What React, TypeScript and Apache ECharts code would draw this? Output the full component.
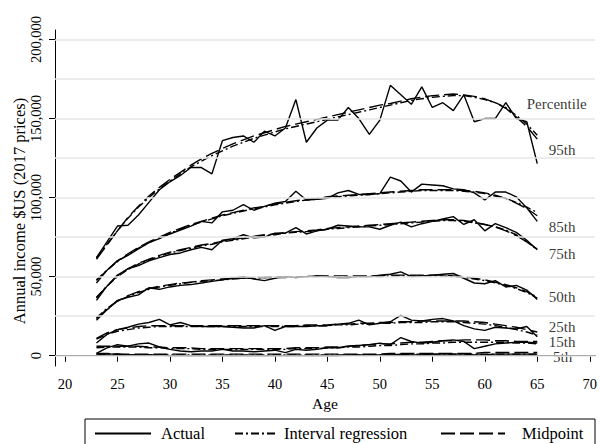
import React, { useEffect, useRef } from "react";
import * as echarts from "echarts";

// Ages observed
const ages = [
  23, 24, 25, 26, 27, 28, 29, 30, 31, 32, 33, 34, 35, 36, 37, 38, 39, 40, 41, 42, 43, 44,
  45, 46, 47, 48, 49, 50, 51, 52, 53, 54, 55, 56, 57, 58, 59, 60, 61, 62, 63, 64, 65,
];

// Annual income by age, in thousands of 2017 $US
const p95Actual = [62, 72, 82, 82.5, 89, 97, 105, 110, 114, 119, 119, 115, 136, 138, 139, 135, 142, 139, 144, 162, 135, 144, 149, 149, 157, 150, 140, 149, 171, 165, 159, 170, 157, 160, 155, 165, 148, 150, 150, 160, 150, 148, 121.5];
const p95Interval = [62, 70.5, 79, 87, 94, 100, 105.5, 110.5, 115, 119.5, 123, 126.5, 129.5, 132.5, 135, 137.5, 139.5, 141.5, 143.5, 145, 146.5, 148, 149.5, 151, 152.5, 154, 155.5, 157, 158.5, 160, 161.5, 162.5, 163.5, 164, 164.5, 164.5, 163.5, 162, 160, 157, 152, 146.5, 139.5];
const p95Midpoint = [61, 70, 79, 87.5, 94.5, 101, 106.5, 111.5, 116, 120.5, 124.5, 128, 131, 134, 136.5, 139, 141, 143, 145, 146.5, 148, 149.5, 151, 152.5, 154, 155.5, 157, 158.5, 159.5, 161, 162.5, 163.5, 164.5, 165, 165.5, 165, 164, 162.5, 160, 156.5, 151, 145, 137];

const p85Actual = [46, 54, 60, 63.5, 67.5, 71.5, 74, 77, 79.5, 82, 85, 84, 91, 92, 95.5, 92, 94.5, 96.5, 97.5, 104, 98.5, 99, 99.5, 103, 104.5, 102, 102, 102.5, 113, 110.5, 103.5, 108.5, 108, 107.5, 105.5, 105, 103, 98.5, 103.5, 103.5, 100.5, 93.5, 85];
const p85Interval = [48, 54, 59.5, 64, 68, 71.5, 74.5, 77.5, 80, 82.5, 84.5, 86.5, 88.5, 90, 91.5, 93, 94, 95.5, 96.5, 97.5, 98.5, 99, 100, 100.5, 101, 101.5, 102, 102.5, 103, 103.5, 104, 104.5, 104.5, 104.5, 104.5, 104, 103.5, 102.5, 101, 99.5, 97, 94, 90.5];
const p85Midpoint = [47.5, 54, 60, 64.5, 68.5, 72, 75, 78, 80.5, 83, 85, 87, 89, 90.5, 92, 93.5, 94.5, 96, 97, 98, 99, 99.5, 100.5, 101, 101.5, 102, 102.5, 103, 103.5, 104, 104.5, 105, 105, 105, 105, 104.5, 104, 103, 101.5, 99.5, 96.5, 93, 88.5];

const p75Actual = [35, 44, 51, 55, 57, 60, 62, 64, 65, 67, 68.5, 67, 73, 74, 76.5, 74.5, 75, 77.5, 77.5, 81, 77, 79, 80, 82.5, 82, 81.5, 81.5, 80, 82.5, 84.5, 81.5, 83.5, 85, 86.5, 88, 83, 86, 79, 83.5, 81, 78, 73, 67];
const p75Interval = [37, 44, 50, 54.5, 58, 60.5, 63, 65, 66.5, 68, 69.5, 70.5, 72, 73, 74, 75, 76, 76.5, 77.5, 78, 78.5, 79, 80, 80.5, 81, 81.5, 82, 82.5, 83, 83.5, 84, 84.5, 85, 85.5, 85.5, 85, 84, 83, 81.5, 79.5, 76.5, 72, 67];
const p75Midpoint = [36.5, 44, 50.5, 55, 58.5, 61, 63.5, 65.5, 67, 68.5, 70, 71, 72.5, 73.5, 74.5, 75.5, 76.5, 77, 78, 78.5, 79, 79.5, 80.5, 81, 81.5, 82, 82.5, 83, 83.5, 84, 84.5, 85, 85.5, 86, 86, 85.5, 84.5, 83, 81.5, 79, 76, 72, 67.5];

const p50Actual = [22.5, 29, 35, 37, 38.5, 43, 42, 43.5, 44.5, 45, 46, 47, 48, 49, 50, 48.5, 47.5, 49, 50, 49.5, 50, 50.5, 50, 49.5, 49.5, 50, 50, 51, 51.5, 53, 50, 50.5, 51, 51.5, 52, 49, 46, 45.5, 47.5, 43.5, 44.5, 41.5, 35.5];
const p50Interval = [24, 30, 34.5, 37.5, 40, 42, 43.5, 44.5, 45.5, 46.5, 47, 47.5, 48, 48.5, 49, 49, 49.5, 49.5, 49.5, 50, 50, 50, 50, 50, 50, 50, 50, 50, 50.5, 50.5, 50.5, 50.5, 50.5, 50.5, 50, 49.5, 48.5, 47.5, 46, 44.5, 42.5, 40, 36.5];
const p50Midpoint = [23.5, 29.5, 34.5, 38, 40.5, 42.5, 44, 45, 46, 46.5, 47.5, 48, 48.5, 49, 49, 49.5, 49.5, 50, 50, 50, 50, 50.5, 50.5, 50.5, 50.5, 50.5, 50.5, 50.5, 51, 51, 51, 51, 51, 51, 50.5, 50, 49, 48, 46.5, 45, 43, 40.5, 37];

const p25Actual = [8, 13.5, 16.5, 18, 20, 21, 23, 19.5, 21, 19, 18.5, 18.5, 18.5, 18, 17.5, 17.5, 19, 16, 18.5, 18.5, 18.5, 19, 19, 20, 20.5, 22.5, 19.5, 20.5, 21.5, 25.5, 22.5, 22, 23, 23.5, 22, 19, 17, 16, 18, 17.5, 17, 18.5, 12];
const p25Interval = [10.5, 13.5, 15.5, 16.5, 17.5, 18, 18.5, 18.5, 18.5, 18.5, 18.5, 18.5, 18.5, 18.5, 18.5, 18.5, 18.5, 18.5, 18.5, 18.5, 19, 19, 19, 19.5, 19.5, 20, 20, 20.5, 20.5, 21, 21, 21, 21.5, 21.5, 21.5, 21, 20.5, 20, 19, 18, 16.5, 15, 13];
const p25Midpoint = [11, 14.5, 16.5, 17.5, 18.5, 19, 19, 19, 19, 19, 19, 19, 19, 19, 19, 19, 19, 19, 19, 19, 19.5, 19.5, 19.5, 20, 20, 20.5, 20.5, 21, 21, 21.5, 21.5, 22, 22, 22, 22, 22, 21.5, 21, 20, 19, 18, 16.5, 15];

const p15Actual = [1.5, 5, 7, 6, 7.5, 8, 5.5, 4, 3, 2.5, 3, 3, 4, 3, 3, 2.5, 3, 3.5, 2, 4, 3.5, 4, 5, 5, 6, 6.5, 7, 8, 7, 11.5, 9, 8, 8.5, 9.5, 10, 9, 4.5, 6, 7.5, 8, 8.5, 8.5, 8];
const p15Interval = [5, 5.5, 5.5, 5.5, 5.5, 5, 5, 4.5, 4.5, 4.5, 4, 4, 4, 4, 4, 4, 4, 4, 4, 4.5, 4.5, 4.5, 5, 5, 5.5, 5.5, 6, 6.5, 6.5, 7, 7.5, 7.5, 8, 8, 8.5, 8.5, 8.5, 8.5, 8.5, 8.5, 8, 8, 7.5];
const p15Midpoint = [6, 6, 6, 6, 6, 5.5, 5.5, 5, 5, 5, 4.5, 4.5, 4.5, 4.5, 4.5, 4.5, 4.5, 4.5, 4.5, 5, 5, 5, 5.5, 5.5, 6, 6.5, 7, 7.5, 7.5, 8, 8.5, 8.5, 9, 9.5, 9.5, 10, 10, 10, 9.5, 9.5, 9, 9, 9];

const p5Actual = [0.5, 1, 1, 0.5, 0.5, 0.5, 0.5, 0, 0, 0, 0, 0, 0, 0, 0, 0, 0, 0, 0, 0, 0, 0, 0, 0, 0.5, 0.5, 0.5, 0.5, 0.5, 1, 0.5, 0.5, 1, 1, 1, 1, 0.5, 0.5, 1, 1, 1, 1, 1];
const p5Interval = [1, 1, 1, 0.5, 0.5, 0.5, 0.5, 0.5, 0.5, 0.5, 0.5, 0.5, 0.5, 0.5, 0.5, 0.5, 0.5, 0.5, 0.5, 0.5, 0.5, 0.5, 0.5, 0.5, 0.5, 0.5, 0.5, 0.5, 0.5, 0.5, 1, 1, 1, 1, 1, 1, 1, 1, 1, 1, 1, 1, 1];
const p5Midpoint = [1.5, 1.5, 1, 1, 1, 1, 1, 1, 1, 1, 1, 1, 1, 1, 1, 1, 1, 1, 1, 1, 1, 1, 1, 1, 1, 1, 1, 1, 1.5, 1.5, 1.5, 1.5, 1.5, 1.5, 1.5, 1.5, 1.5, 2, 2, 2, 2, 2, 2];

// Percentile annotations at the right end of the curves: [age, income in thousands]
const percentileLabels = ["Percentile", "95th", "85th", "75th", "50th", "25th", "15th", "5th"];
const labelAges = [64.0, 66.1, 66.1, 66.1, 66.1, 66.1, 66.1, 66.5];
const labelValues = [159.5, 130, 81.5, 64.6, 37.3, 18.1, 8.4, -1.1];

// Axis ticks
const xTicks = [20, 25, 30, 35, 40, 45, 50, 55, 60, 65, 70];
const yTicks = [0, 50000, 100000, 150000, 200000];
const yGridValues = [0, 25000, 50000, 75000, 100000, 125000, 150000, 175000, 200000];

const legendNames = ["Actual", "Interval regression", "Midpoint"];

const FONT = '"Liberation Serif", "Times New Roman", serif';

const percentiles = [
  { actual: p95Actual, interval: p95Interval, midpoint: p95Midpoint },
  { actual: p85Actual, interval: p85Interval, midpoint: p85Midpoint },
  { actual: p75Actual, interval: p75Interval, midpoint: p75Midpoint },
  { actual: p50Actual, interval: p50Interval, midpoint: p50Midpoint },
  { actual: p25Actual, interval: p25Interval, midpoint: p25Midpoint },
  { actual: p15Actual, interval: p15Interval, midpoint: p15Midpoint },
  { actual: p5Actual, interval: p5Interval, midpoint: p5Midpoint },
];

const toPoints = (vals: number[]) => vals.map((v, i) => [ages[i], v * 1000]);

const lineTypes: Record<string, any> = {
  Actual: "solid",
  "Interval regression": [8, 3, 2, 3],
  Midpoint: [14, 5],
};

function lineSeries(name: string, vals: number[]) {
  return {
    type: "line",
    name,
    data: toPoints(vals),
    symbol: "none",
    z: 3,
    silent: true,
    lineStyle: { color: "#000", width: 1.4, type: lineTypes[name] },
    itemStyle: { color: "#000" },
  };
}

const withCommas = (v: number) => String(v).replace(/\B(?=(\d{3})+(?!\d))/g, ",");

export default function App() {
  const ref = useRef<HTMLDivElement>(null);

  useEffect(() => {
    if (!ref.current) return;
    const chart = echarts.init(ref.current, undefined, { renderer: "svg" });

    const series: any[] = [
      {
        // light horizontal reference lines every 25,000
        type: "line",
        name: "grid",
        data: [[ages[0], 0]],
        symbol: "none",
        z: 1,
        silent: true,
        lineStyle: { width: 0 },
        markLine: {
          silent: true,
          symbol: ["none", "none"],
          label: { show: false },
          lineStyle: { color: "#e6e6e6", width: 1.5, type: "solid" },
          data: yGridValues.map((v) => ({ yAxis: v })),
        },
      },
    ];
    percentiles.forEach((p) => {
      series.push(lineSeries("Actual", p.actual));
      series.push(lineSeries("Interval regression", p.interval));
      series.push(lineSeries("Midpoint", p.midpoint));
    });
    series.push({
      type: "scatter",
      name: "labels",
      symbolSize: 0,
      silent: true,
      z: 4,
      data: percentileLabels.map((n, i) => ({ name: n, value: [labelAges[i], labelValues[i] * 1000] })),
      label: {
        show: true,
        position: "right",
        distance: 0,
        formatter: (p: any) => p.name,
        color: "#000",
        fontFamily: FONT,
        fontSize: 15,
        lineHeight: 13,
      },
    });

    const legendBase = {
      top: 425,
      itemHeight: 14,
      selectedMode: false,
      padding: 0,
      itemStyle: { opacity: 0 },
    };
    const legendText = (pad: number) => ({
      color: "#000",
      fontFamily: FONT,
      fontSize: 16.5,
      padding: [0, 0, 0, pad],
    });

    chart.setOption({
      animation: false,
      backgroundColor: "#fff",
      grid: { left: 55, right: 3, top: 30, bottom: 78 },
      xAxis: {
        type: "value",
        min: 19.05,
        max: 70.5,
        axisLine: { show: true, lineStyle: { color: "#000", width: 1 } },
        axisTick: { show: true, customValues: xTicks, length: 6, lineStyle: { color: "#000" } },
        axisLabel: { customValues: xTicks, color: "#000", fontFamily: FONT, fontSize: 14.5, margin: 10 },
        splitLine: { show: false },
        name: "Age",
        nameLocation: "middle",
        nameGap: 27,
        nameTextStyle: { color: "#000", fontFamily: FONT, fontSize: 15.5 },
      },
      yAxis: {
        type: "value",
        min: -6500,
        max: 206000,
        axisLine: { show: true, lineStyle: { color: "#000", width: 1 } },
        axisTick: { show: true, customValues: yTicks, length: 6, lineStyle: { color: "#000" } },
        axisLabel: {
          customValues: yTicks,
          rotate: 90,
          color: "#000",
          fontFamily: FONT,
          fontSize: 14.5,
          margin: 12,
          formatter: (v: number) => withCommas(v),
        },
        splitLine: { show: false },
      },
      legend: [
        { ...legendBase, data: [legendNames[0]], left: 94, itemWidth: 56, textStyle: legendText(5) },
        { ...legendBase, data: [legendNames[1]], left: 234, itemWidth: 42, textStyle: legendText(2) },
        { ...legendBase, data: [legendNames[2]], left: 440, itemWidth: 64, textStyle: legendText(12) },
      ],
      graphic: [
        {
          type: "text",
          x: 19,
          y: 211,
          rotation: Math.PI / 2,
          silent: true,
          style: {
            text: "Annual income $US (2017 prices)",
            fill: "#000",
            font: `16.5px ${FONT}`,
            align: "center",
            verticalAlign: "middle",
          },
        },
        {
          type: "rect",
          shape: { x: 85, y: 419, width: 510, height: 40 },
          style: { fill: "none", stroke: "#000", lineWidth: 1 },
          silent: true,
        },
      ],
      series,
    });

    return () => chart.dispose();
  }, []);

  return (
    <div
      ref={ref}
      style={{ position: "absolute", left: 0, top: 0, width: 600, height: 444 }}
    />
  );
}
